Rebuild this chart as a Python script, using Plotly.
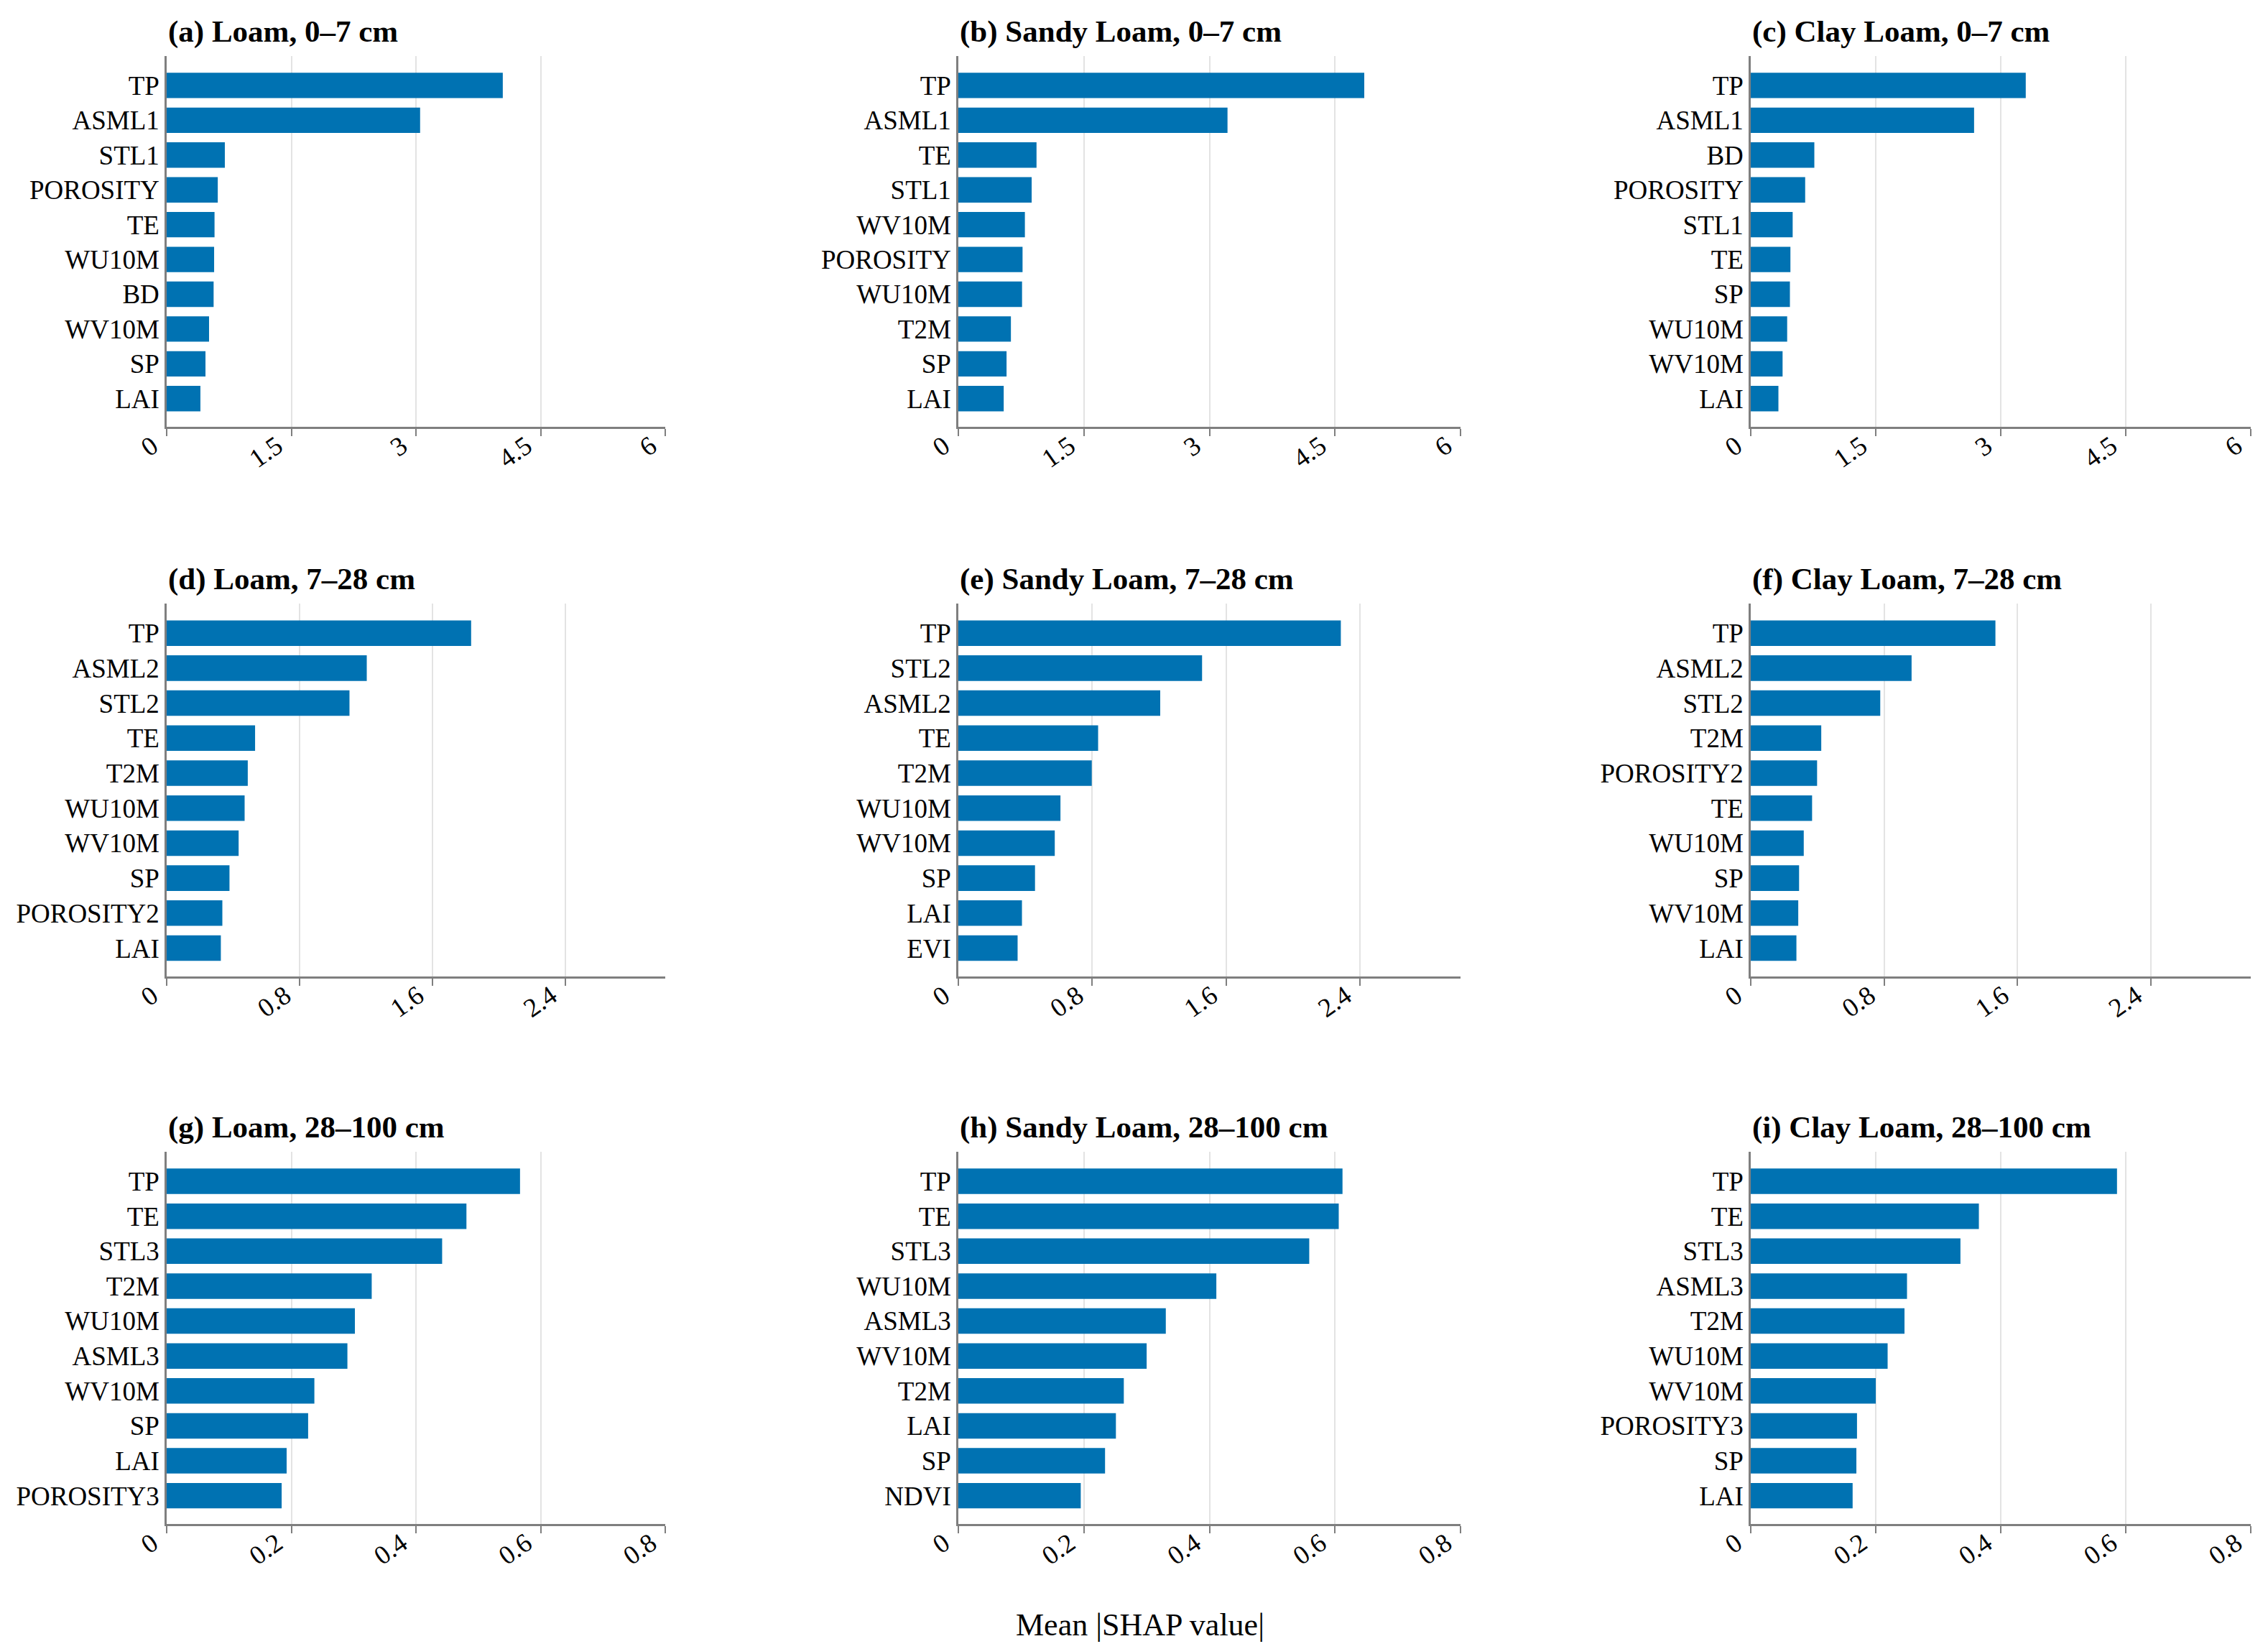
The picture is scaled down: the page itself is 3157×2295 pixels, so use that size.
import plotly.graph_objects as go

# ---------------- data ----------------
titles = [
    "(a) Loam, 0\u20137 cm", "(b) Sandy Loam, 0\u20137 cm", "(c) Clay Loam, 0\u20137 cm",
    "(d) Loam, 7\u201328 cm", "(e) Sandy Loam, 7\u201328 cm", "(f) Clay Loam, 7\u201328 cm",
    "(g) Loam, 28\u2013100 cm", "(h) Sandy Loam, 28\u2013100 cm", "(i) Clay Loam, 28\u2013100 cm",
]

feat_a = ["TP", "ASML1", "STL1", "POROSITY", "TE", "WU10M", "BD", "WV10M", "SP", "LAI"]
vals_a = [4.045, 3.05, 0.70, 0.615, 0.576, 0.571, 0.565, 0.51, 0.467, 0.406]

feat_b = ["TP", "ASML1", "TE", "STL1", "WV10M", "POROSITY", "WU10M", "T2M", "SP", "LAI"]
vals_b = [4.85, 3.216, 0.934, 0.876, 0.795, 0.767, 0.761, 0.628, 0.576, 0.542]

feat_c = ["TP", "ASML1", "BD", "POROSITY", "STL1", "TE", "SP", "WU10M", "WV10M", "LAI"]
vals_c = [3.30, 2.68, 0.763, 0.653, 0.503, 0.476, 0.470, 0.437, 0.382, 0.332]

feat_d = ["TP", "ASML2", "STL2", "TE", "T2M", "WU10M", "WV10M", "SP", "POROSITY2", "LAI"]
vals_d = [1.832, 1.204, 1.100, 0.532, 0.488, 0.469, 0.433, 0.378, 0.335, 0.326]

feat_e = ["TP", "STL2", "ASML2", "TE", "T2M", "WU10M", "WV10M", "SP", "LAI", "EVI"]
vals_e = [2.285, 1.456, 1.206, 0.835, 0.797, 0.610, 0.576, 0.458, 0.380, 0.354]

feat_f = ["TP", "ASML2", "STL2", "T2M", "POROSITY2", "TE", "WU10M", "SP", "WV10M", "LAI"]
vals_f = [1.468, 0.965, 0.777, 0.423, 0.398, 0.368, 0.318, 0.290, 0.285, 0.274]

feat_g = ["TP", "TE", "STL3", "T2M", "WU10M", "ASML3", "WV10M", "SP", "LAI", "POROSITY3"]
vals_g = [0.567, 0.481, 0.442, 0.329, 0.302, 0.290, 0.237, 0.227, 0.1925, 0.1845]

feat_h = ["TP", "TE", "STL3", "WU10M", "ASML3", "WV10M", "T2M", "LAI", "SP", "NDVI"]
vals_h = [0.612, 0.606, 0.559, 0.411, 0.3305, 0.300, 0.2636, 0.251, 0.2337, 0.195]

feat_i = ["TP", "TE", "STL3", "ASML3", "T2M", "WU10M", "WV10M", "POROSITY3", "SP", "LAI"]
vals_i = [0.586, 0.365, 0.3355, 0.250, 0.246, 0.219, 0.200, 0.170, 0.169, 0.163]

x_ranges = [[0, 6], [0, 3.0], [0, 0.8]]
x_tickvals = [[0, 1.5, 3, 4.5, 6], [0, 0.8, 1.6, 2.4], [0, 0.2, 0.4, 0.6, 0.8]]
x_ticktext = [["0", "1.5", "3", "4.5", "6"], ["0", "0.8", "1.6", "2.4"],
              ["0", "0.2", "0.4", "0.6", "0.8"]]
x_title = "Mean |SHAP value|"

features = [feat_a, feat_b, feat_c, feat_d, feat_e, feat_f, feat_g, feat_h, feat_i]
values = [vals_a, vals_b, vals_c, vals_d, vals_e, vals_f, vals_g, vals_h, vals_i]

# ---------------- layout ----------------
W, H = 3157, 2295
BLUE = "#0072b2"
FONT = "Liberation Serif"
AXC = "#7f7f7f"

col_px = [(224, 918), (1326, 2025), (2429, 3125)]
row_px = [(70, 586), (832, 1351), (1595, 2113)]

fig = go.Figure()
layout = dict(
    width=W, height=H,
    margin=dict(l=0, r=0, t=0, b=0, autoexpand=False),
    paper_bgcolor="white", plot_bgcolor="white",
    showlegend=False,
    font=dict(family=FONT, color="black", size=37),
)
annotations = []

for k in range(9):
    r, c = divmod(k, 3)
    n = k + 1
    xa = "x" if n == 1 else f"x{n}"
    ya = "y" if n == 1 else f"y{n}"
    fig.add_trace(go.Bar(
        x=values[k], y=features[k], orientation="h",
        marker=dict(color=BLUE, line=dict(width=0)),
        width=0.73, xaxis=xa, yaxis=ya,
    ))
    x0, x1 = col_px[c]
    t0, t1 = row_px[r]
    xd = [x0 / W, x1 / W]
    yd = [1 - t1 / H, 1 - t0 / H]
    layout["xaxis" if n == 1 else f"xaxis{n}"] = dict(
        domain=xd, anchor=ya, range=x_ranges[r], automargin=False,
        tickmode="array", tickvals=x_tickvals[r], ticktext=x_ticktext[r],
        tickangle=-35, ticklabelshift=-20, ticklabelstandoff=-22,
        showgrid=True, gridcolor="#e3e3e3", gridwidth=1.5,
        showline=True, linecolor=AXC, linewidth=2.5,
        ticks="outside", ticklen=10, tickwidth=2, tickcolor=AXC,
        tickfont=dict(size=37, family=FONT, color="black"),
        zeroline=False, fixedrange=True,
    )
    layout["yaxis" if n == 1 else f"yaxis{n}"] = dict(
        domain=yd, anchor=xa, type="category", automargin=False,
        categoryorder="array", categoryarray=features[k],
        range=[9.81, -0.845],
        showline=True, linecolor=AXC, linewidth=2.5,
        showgrid=False, ticks="", ticklabelstandoff=0,
        tickfont=dict(size=37, family=FONT, color="black"),
        zeroline=False, fixedrange=True,
    )
    annotations.append(dict(
        text="<b>" + titles[k] + "</b>", xref="paper", yref="paper",
        x=x0 / W, y=1 - (t0 - 34) / H, xanchor="left", yanchor="middle",
        showarrow=False, font=dict(size=43, family=FONT, color="black"),
    ))

annotations.append(dict(
    text=x_title, xref="paper", yref="paper",
    x=0.5, y=1 - 2253 / H, xanchor="center", yanchor="middle",
    showarrow=False, font=dict(size=44, family=FONT, color="black"),
))
layout["annotations"] = annotations
fig.update_layout(**layout)
fig.write_html("out.html")
